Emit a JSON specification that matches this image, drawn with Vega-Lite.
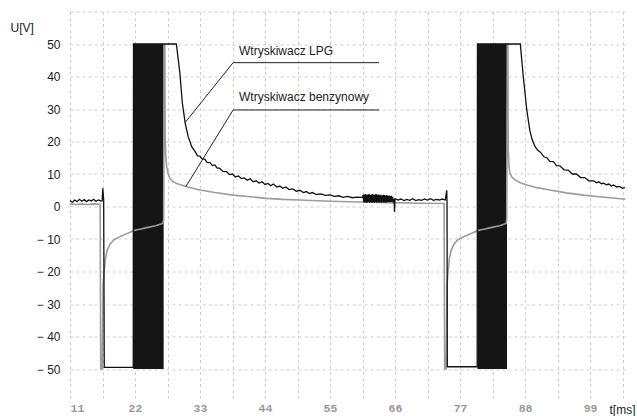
{
  "$schema": "https://vega.github.io/schema/vega-lite/v6.json",
  "width": 555.5,
  "height": 390,
  "autosize": {"type": "none"},
  "padding": {"left": 70, "top": 11.5, "right": 11.5, "bottom": 14.5},
  "background": "white",
  "config": {
    "view": {"stroke": null},
    "axis": {"domain": false, "ticks": false, "gridColor": "#cfcfcf", "gridDash": [3, 3], "gridWidth": 1, "labelOverlap": false}
  },
  "datasets": {
    "blocks": [
      {"t": 21.7, "t2": 26.85, "v": -50, "v2": 50},
      {"t": 79.95, "t2": 84.95, "v": -50, "v2": 50}
    ],
    "lpg": [
      {"t": 11, "v": 1.8}, {"t": 11.4, "v": 1.3}, {"t": 11.8, "v": 2.0}, {"t": 12.2, "v": 1.5}, {"t": 12.6, "v": 2.2},
      {"t": 13, "v": 1.6}, {"t": 13.4, "v": 2.1}, {"t": 13.8, "v": 1.5}, {"t": 14.2, "v": 2.0}, {"t": 14.6, "v": 1.7},
      {"t": 15, "v": 2.2}, {"t": 15.4, "v": 1.6}, {"t": 15.8, "v": 2.0}, {"t": 16.2, "v": 1.7}, {"t": 16.45, "v": 1.8},
      {"t": 16.55, "v": 5.6}, {"t": 16.7, "v": 2.0}, {"t": 16.8, "v": -49.5}, {"t": 21.7, "v": -49.5}, {"t": 21.75, "v": 50},
      {"t": 29.0, "v": 50}, {"t": 29.6, "v": 41}, {"t": 30.0, "v": 32}, {"t": 30.5, "v": 25.6}, {"t": 31.0, "v": 21.5},
      {"t": 31.6, "v": 18.4}, {"t": 32.2, "v": 16.8}, {"t": 32.6, "v": 15.6}, {"t": 33, "v": 15.5}, {"t": 33.4, "v": 14.6}, {"t": 33.8, "v": 14.6}, {"t": 34.2, "v": 13.6}, {"t": 34.7, "v": 13.5},
      {"t": 35.1, "v": 12.6}, {"t": 35.5, "v": 12.8}, {"t": 35.9, "v": 11.8}, {"t": 36.3, "v": 11.8}, {"t": 36.9, "v": 10.8}, {"t": 37.5, "v": 10.7}, {"t": 38, "v": 9.8}, {"t": 38.5, "v": 10.0}, {"t": 39, "v": 9.1}, {"t": 39.5, "v": 9.4},
      {"t": 40, "v": 8.6}, {"t": 40.5, "v": 8.8}, {"t": 41, "v": 8.1}, {"t": 41.5, "v": 8.5}, {"t": 42, "v": 7.6}, {"t": 42.5, "v": 7.9}, {"t": 43, "v": 7.2}, {"t": 43.5, "v": 7.6}, {"t": 44, "v": 6.8}, {"t": 44.5, "v": 7.1},
      {"t": 45, "v": 6.4}, {"t": 45.4, "v": 6.9}, {"t": 46, "v": 6.0}, {"t": 46.5, "v": 6.3}, {"t": 47, "v": 5.6}, {"t": 47.5, "v": 6.0}, {"t": 48.1, "v": 5.2}, {"t": 48.7, "v": 5.4}, {"t": 49.3, "v": 4.7}, {"t": 49.9, "v": 5.0},
      {"t": 50.5, "v": 4.3}, {"t": 51, "v": 4.6}, {"t": 51.5, "v": 4.0}, {"t": 52, "v": 4.3}, {"t": 52.7, "v": 3.7}, {"t": 53.5, "v": 3.9}, {"t": 54.2, "v": 3.4}, {"t": 55, "v": 3.6}, {"t": 55.7, "v": 3.1}, {"t": 56.5, "v": 3.3},
      {"t": 57.2, "v": 2.8}, {"t": 58, "v": 3.1}, {"t": 58.8, "v": 2.7}, {"t": 59.5, "v": 2.9}, {"t": 60.5, "v": 2.8},
      {"t": 60.6, "v": 3.6}, {"t": 60.7, "v": 1.3}, {"t": 60.8, "v": 3.7}, {"t": 60.9, "v": 1.2}, {"t": 61.0, "v": 3.8},
      {"t": 61.1, "v": 1.3}, {"t": 61.2, "v": 3.6}, {"t": 61.3, "v": 1.2}, {"t": 61.4, "v": 3.7}, {"t": 61.5, "v": 1.4},
      {"t": 61.6, "v": 3.8}, {"t": 61.7, "v": 1.2}, {"t": 61.8, "v": 3.6}, {"t": 61.9, "v": 1.3}, {"t": 62.0, "v": 3.7},
      {"t": 62.1, "v": 1.2}, {"t": 62.2, "v": 3.8}, {"t": 62.3, "v": 1.3}, {"t": 62.4, "v": 3.6}, {"t": 62.5, "v": 1.2},
      {"t": 62.6, "v": 3.7}, {"t": 62.7, "v": 1.3}, {"t": 62.8, "v": 3.8}, {"t": 62.9, "v": 1.2}, {"t": 63.0, "v": 3.6},
      {"t": 63.1, "v": 1.3}, {"t": 63.2, "v": 3.7}, {"t": 63.3, "v": 1.2}, {"t": 63.4, "v": 3.5}, {"t": 63.5, "v": 1.3},
      {"t": 63.6, "v": 3.6}, {"t": 63.7, "v": 1.2}, {"t": 63.8, "v": 3.4}, {"t": 63.9, "v": 1.3}, {"t": 64.0, "v": 3.6},
      {"t": 64.1, "v": 1.2}, {"t": 64.2, "v": 3.5}, {"t": 64.3, "v": 1.3}, {"t": 64.4, "v": 3.4}, {"t": 64.5, "v": 1.2},
      {"t": 64.6, "v": 3.5}, {"t": 64.7, "v": 1.3}, {"t": 64.8, "v": 3.3}, {"t": 64.9, "v": 1.4}, {"t": 65.0, "v": 3.4},
      {"t": 65.1, "v": 1.3}, {"t": 65.2, "v": 3.2}, {"t": 65.3, "v": 1.4}, {"t": 65.4, "v": 3.3}, {"t": 65.5, "v": 1.5},
      {"t": 65.6, "v": 3.0}, {"t": 65.7, "v": 1.6},
      {"t": 65.85, "v": 2.2}, {"t": 65.9, "v": -1.6}, {"t": 66.0, "v": 2.4}, {"t": 66.5, "v": 2.0},
      {"t": 67, "v": 2.3}, {"t": 67.5, "v": 1.8}, {"t": 68, "v": 2.2}, {"t": 68.5, "v": 1.9}, {"t": 69, "v": 2.4},
      {"t": 69.5, "v": 1.8}, {"t": 70, "v": 2.1}, {"t": 70.5, "v": 1.9}, {"t": 71, "v": 2.3}, {"t": 71.5, "v": 2.0},
      {"t": 72, "v": 2.4}, {"t": 72.5, "v": 1.9}, {"t": 73, "v": 2.2}, {"t": 73.5, "v": 2.0}, {"t": 74, "v": 2.3},
      {"t": 74.5, "v": 2.0}, {"t": 74.75, "v": 5.0}, {"t": 74.8, "v": 1.5}, {"t": 74.85, "v": -49.3}, {"t": 79.9, "v": -49.3},
      {"t": 79.95, "v": 50}, {"t": 87.2, "v": 50}, {"t": 87.7, "v": 40}, {"t": 88.3, "v": 29.7}, {"t": 88.8, "v": 23.5},
      {"t": 89.2, "v": 20.6}, {"t": 89.7, "v": 18.4}, {"t": 90.2, "v": 17.2}, {"t": 90.6, "v": 16.7}, {"t": 91.2, "v": 15.3}, {"t": 91.7, "v": 15.0}, {"t": 92.2, "v": 13.9}, {"t": 92.8, "v": 13.8},
      {"t": 93.3, "v": 12.6}, {"t": 93.9, "v": 12.5}, {"t": 94.6, "v": 11.3}, {"t": 95.3, "v": 11.2}, {"t": 96, "v": 10.0}, {"t": 96.7, "v": 10.0}, {"t": 97.4, "v": 8.9}, {"t": 98.1, "v": 8.9}, {"t": 98.8, "v": 7.9}, {"t": 99.6, "v": 7.9},
      {"t": 100.1, "v": 7.3}, {"t": 100.5, "v": 7.6}, {"t": 100.9, "v": 7.0}, {"t": 101.3, "v": 7.2}, {"t": 101.8, "v": 6.7}, {"t": 102.2, "v": 6.9}, {"t": 102.6, "v": 6.3}, {"t": 103, "v": 6.6}, {"t": 103.5, "v": 6.0}, {"t": 104, "v": 6.2},
      {"t": 104.5, "v": 5.6}, {"t": 104.9, "v": 5.8}
    ],
    "benz": [
      {"t": 11, "v": 0.8}, {"t": 12, "v": 0.6}, {"t": 13, "v": 0.8}, {"t": 14, "v": 0.6}, {"t": 15, "v": 0.8},
      {"t": 16.1, "v": 0.7}, {"t": 16.2, "v": -50}, {"t": 16.45, "v": -50}, {"t": 16.6, "v": -24}, {"t": 16.75, "v": -20.5},
      {"t": 17.0, "v": -16}, {"t": 17.3, "v": -13.4}, {"t": 17.8, "v": -11.5}, {"t": 18.4, "v": -10.3}, {"t": 19.5, "v": -9.2},
      {"t": 20.7, "v": -8.3}, {"t": 21.8, "v": -7.4}, {"t": 23, "v": -6.9}, {"t": 24, "v": -6.5}, {"t": 25.5, "v": -5.9},
      {"t": 26.7, "v": -5.2}, {"t": 26.85, "v": -4}, {"t": 26.95, "v": 50}, {"t": 27.05, "v": 50}, {"t": 27.1, "v": 22},
      {"t": 27.2, "v": 15.5}, {"t": 27.36, "v": 12.2}, {"t": 27.6, "v": 10.2}, {"t": 27.9, "v": 8.7}, {"t": 28.4, "v": 7.7},
      {"t": 29.05, "v": 7.1}, {"t": 30.75, "v": 6.1}, {"t": 33, "v": 5.1}, {"t": 35.5, "v": 4.3}, {"t": 38.6, "v": 3.5},
      {"t": 41.5, "v": 3.0}, {"t": 44.3, "v": 2.5}, {"t": 47, "v": 2.2}, {"t": 49.9, "v": 2.0}, {"t": 55, "v": 1.6},
      {"t": 60, "v": 1.4}, {"t": 65, "v": 1.2}, {"t": 70, "v": 1.0}, {"t": 74.3, "v": 0.9}, {"t": 74.4, "v": -50},
      {"t": 74.65, "v": -50}, {"t": 74.8, "v": -24}, {"t": 74.95, "v": -20.5}, {"t": 75.2, "v": -16}, {"t": 75.5, "v": -13.4},
      {"t": 76.0, "v": -11.5}, {"t": 76.6, "v": -10.3}, {"t": 77.7, "v": -9.2}, {"t": 78.9, "v": -8.3}, {"t": 80.0, "v": -7.4},
      {"t": 81.2, "v": -6.9}, {"t": 82.2, "v": -6.5}, {"t": 83.7, "v": -5.9}, {"t": 84.8, "v": -5.2}, {"t": 84.9, "v": -4},
      {"t": 85.0, "v": 50}, {"t": 85.1, "v": 50}, {"t": 85.15, "v": 18}, {"t": 85.3, "v": 12}, {"t": 85.46, "v": 10.2},
      {"t": 85.8, "v": 9.0}, {"t": 86.3, "v": 8.2}, {"t": 87.2, "v": 7.3}, {"t": 88.3, "v": 6.6}, {"t": 90, "v": 5.8},
      {"t": 92.2, "v": 5.1}, {"t": 95, "v": 4.2}, {"t": 97.9, "v": 3.5}, {"t": 101, "v": 2.9}, {"t": 104.6, "v": 2.3},
      {"t": 105, "v": 2.3}
    ],
    "leaders": [
      {"g": "LPG", "o": 1, "t": 30.46, "v": 25.8},
      {"g": "LPG", "o": 2, "t": 38.6, "v": 44.25},
      {"g": "LPG", "o": 3, "t": 63.3, "v": 44.25},
      {"g": "benz", "o": 1, "t": 30.6, "v": 6.1},
      {"g": "benz", "o": 2, "t": 38.6, "v": 29.7},
      {"g": "benz", "o": 3, "t": 63.3, "v": 29.7}
    ],
    "labels": [
      {"t": 39.6, "v": 47.9, "label": "Wtryskiwacz LPG"},
      {"t": 39.6, "v": 33.6, "label": "Wtryskiwacz benzynowy"}
    ]
  },
  "encoding": {
    "x": {
      "field": "t",
      "type": "quantitative",
      "scale": {"domain": [11, 105], "nice": false, "zero": false},
      "axis": {
        "values": [11, 16.5, 22, 27.5, 33, 38.5, 44, 49.5, 55, 60.5, 66, 71.5, 77, 82.5, 88, 93.5, 99, 104.5],
        "labelExpr": "datum.value % 11 === 0 ? datum.value : ''",
        "labelFont": "Liberation Mono",
        "labelFontWeight": "bold",
        "labelFontSize": 11.5,
        "labelColor": "#999999",
        "labelPadding": 1,
        "title": "t[ms]",
        "titleFont": "Liberation Sans",
        "titleFontWeight": "normal",
        "titleFontSize": 12,
        "titleColor": "#222222",
        "titleAlign": "left",
        "titleAnchor": null,
        "titleBaseline": "alphabetic",
        "titleX": 539,
        "titleY": 11.5
      }
    },
    "y": {
      "field": "v",
      "type": "quantitative",
      "scale": {"domain": [-60, 60], "nice": false, "zero": false},
      "axis": {
        "values": [-50, -40, -30, -20, -10, 0, 10, 20, 30, 40, 50, 60],
        "labelExpr": "datum.value >= 60 ? '' : (datum.value < 0 ? '\u2212 ' + (-datum.value) : '' + datum.value)",
        "labelFont": "Liberation Sans",
        "labelFontSize": 12,
        "labelColor": "#222222",
        "labelPadding": 10,
        "title": "U[V]",
        "titleFont": "Liberation Sans",
        "titleFontWeight": "normal",
        "titleFontSize": 12,
        "titleColor": "#222222",
        "titleAngle": 0,
        "titleAlign": "left",
        "titleAnchor": null,
        "titleBaseline": "middle",
        "titleX": -60,
        "titleY": 16
      }
    }
  },
  "layer": [
    {
      "data": {"name": "blocks"},
      "mark": {"type": "rect", "color": "#151515"},
      "encoding": {"x2": {"field": "t2"}, "y2": {"field": "v2"}}
    },
    {
      "data": {"name": "benz"},
      "mark": {"type": "line", "color": "#9c9c9c", "strokeWidth": 1.6},
      "encoding": {}
    },
    {
      "data": {"name": "lpg"},
      "mark": {"type": "line", "color": "#111111", "strokeWidth": 1.3},
      "encoding": {}
    },
    {
      "data": {"name": "leaders"},
      "mark": {"type": "line", "color": "#222222", "strokeWidth": 1},
      "encoding": {"detail": {"field": "g"}, "order": {"field": "o"}}
    },
    {
      "data": {"name": "labels"},
      "mark": {"type": "text", "align": "left", "baseline": "middle", "font": "Liberation Sans", "fontSize": 12, "color": "#222222"},
      "encoding": {"text": {"field": "label"}}
    }
  ]
}
